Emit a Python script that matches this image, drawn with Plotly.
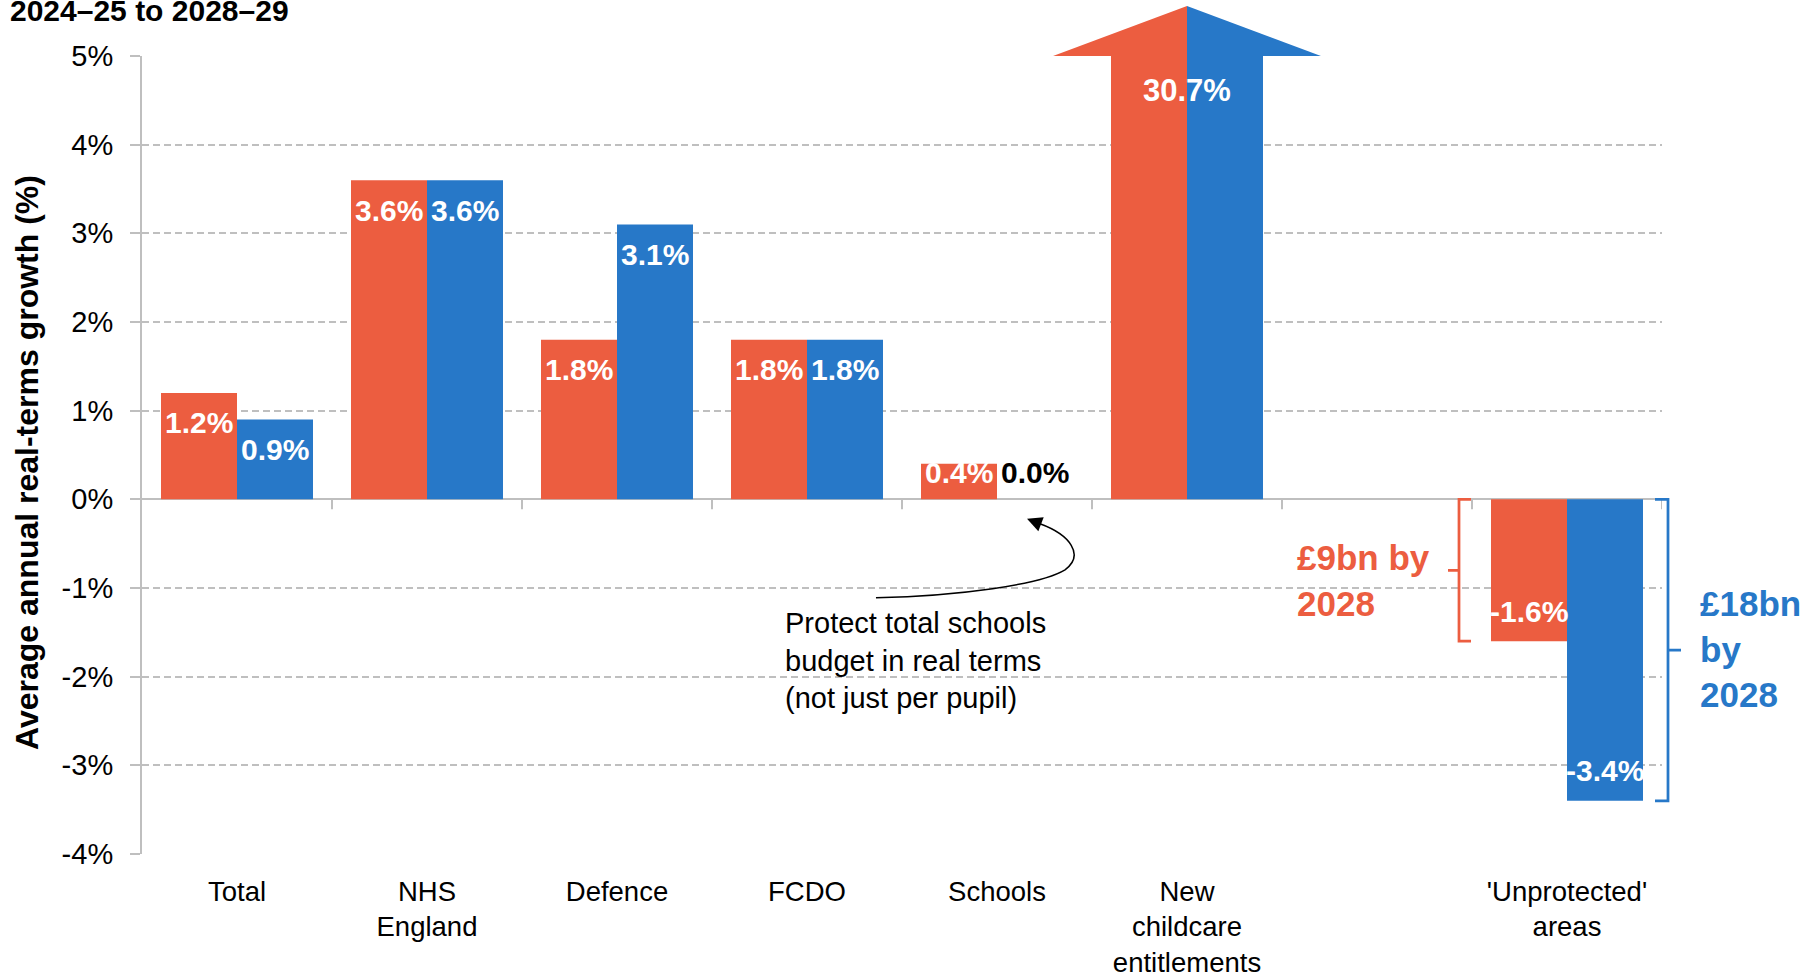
import plotly.graph_objects as go

# ---- data -------------------------------------------------------------
categories = [
    "Total",
    "NHS<br>England",
    "Defence",
    "FCDO",
    "Schools",
    "New<br>childcare<br>entitlements",
    " ",
    "'Unprotected'<br>areas",
]
series_a = [1.2, 3.6, 1.8, 1.8, 0.4, 30.7, None, -1.6]
series_b = [0.9, 3.6, 3.1, 1.8, 0.0, 30.7, None, -3.4]
y_ticks = [-4, -3, -2, -1, 0, 1, 2, 3, 4, 5]

RED = "#EC5D40"
BLUE = "#2778C8"
GRID = "#BFBFBF"
FONT = "Liberation Sans, Arial, sans-serif"

# ---- page geometry ----------------------------------------------------
W, H = 1808, 980
ML, MR, MT, MB = 142, 146, 56, 126
PW, PH = W - ML - MR, H - MT - MB
Y_MIN, Y_MAX = y_ticks[0], y_ticks[-1]
PX_PER_UNIT = PH / (Y_MAX - Y_MIN)


def px(x):
    """page x (pixels from left) -> paper fraction"""
    return (x - ML) / PW


def py(y):
    """page y (pixels from top) -> paper fraction"""
    return (H - MB - y) / PH


fig = go.Figure()
fig.add_trace(go.Bar(x=categories, y=series_a, name="Scenario 1",
                     marker=dict(color=RED, line=dict(width=0))))
fig.add_trace(go.Bar(x=categories, y=series_b, name="Scenario 2",
                     marker=dict(color=BLUE, line=dict(width=0))))

annotations = []
shapes = []

# ---- value labels (inside the bar end, kept clear of the baseline) ------
LABEL_IN = 30    # px from the bar end to the label centre
LABEL_MIN = 27   # px from the zero line to the label centre
for i, cat in enumerate(categories):
    a, b = series_a[i], series_b[i]
    if a is None:
        continue
    if a > Y_MAX and b > Y_MAX and a == b:
        # off-scale bars share one label below the arrow
        annotations.append(dict(x=i, y=Y_MAX, xref="x", yref="y", yshift=-34,
                                text=f"<b>{a:.1f}%</b>", showarrow=False,
                                font=dict(size=31, color="white", family=FONT)))
        continue
    for v, dx in ((a, -0.2), (b, 0.2)):
        length = abs(v) * PX_PER_UNIT
        offset = max(length - LABEL_IN, LABEL_MIN)
        col = "black" if v == 0 else "white"
        shift = -offset if v < 0 else offset
        annotations.append(dict(x=i + dx, y=0, xref="x", yref="y", yshift=shift,
                                text=f"<b>{v:.1f}%</b>", showarrow=False,
                                font=dict(size=30, color=col, family=FONT)))

# ---- arrow head on the off-scale childcare bars ------------------------
ci = 5
tip = py(6)
shapes.append(dict(type="path", xref="x", yref="paper", layer="above",
                   path=f"M {ci - 0.705},1 L {ci},{tip} L {ci},1 Z",
                   fillcolor=RED, line=dict(width=0)))
shapes.append(dict(type="path", xref="x", yref="paper", layer="above",
                   path=f"M {ci},1 L {ci},{tip} L {ci + 0.705},1 Z",
                   fillcolor=BLUE, line=dict(width=0)))

# ---- category tick marks on the zero line ------------------------------
for k in range(len(categories)):
    shapes.append(dict(type="line", xref="x", yref="y", x0=k + 0.5, x1=k + 0.5,
                       ysizemode="pixel", yanchor=0, y0=0, y1=-10,
                       line=dict(color=GRID, width=2)))

# ---- brackets around the unprotected cuts ------------------------------
ua, ub = series_a[-1], series_b[-1]
xa, xa_s, xa_n = px(1459), px(1471), px(1448)
shapes.append(dict(type="path", xref="paper", yref="y",
                   path=f"M {xa_s},0 L {xa},0 L {xa},{ua} L {xa_s},{ua} "
                        f"M {xa},{ua / 2} L {xa_n},{ua / 2}",
                   line=dict(color=RED, width=2.75)))
xb, xb_s, xb_n = px(1668), px(1655), px(1681)
shapes.append(dict(type="path", xref="paper", yref="y",
                   path=f"M {xb_s},0 L {xb},0 L {xb},{ub} L {xb_s},{ub} "
                        f"M {xb},{ub / 2} L {xb_n},{ub / 2}",
                   line=dict(color=BLUE, width=2.75)))

annotations.append(dict(x=px(1295), y=py(580), xref="paper", yref="paper",
                        xanchor="left", yanchor="middle", align="left",
                        text="<b>£9bn by<br>2028</b>", showarrow=False,
                        font=dict(size=35, color=RED, family=FONT)))
annotations.append(dict(x=px(1698), y=py(649), xref="paper", yref="paper",
                        xanchor="left", yanchor="middle", align="left",
                        text="<b>£18bn<br>by<br>2028</b>", showarrow=False,
                        font=dict(size=35, color=BLUE, family=FONT)))

# ---- schools call-out with curved arrow --------------------------------
shapes.append(dict(type="path", xref="x", yref="y",
                   path="M 3.363,-1.110 C 3.805,-1.088 4.226,-0.964 4.358,-0.795 "
                        "C 4.463,-0.626 4.384,-0.400 4.226,-0.276",
                   line=dict(color="black", width=1.5)))
annotations.append(dict(x=4.158, y=-0.22, xref="x", yref="y", text="",
                        showarrow=True, ax=13, ay=5, axref="pixel", ayref="pixel",
                        arrowhead=2, arrowsize=2, arrowwidth=1.5,
                        arrowcolor="black", standoff=0))
annotations.append(dict(x=px(783), y=py(660), xref="paper", yref="paper",
                        xanchor="left", yanchor="middle", align="left",
                        text="Protect total schools<br>budget in real terms<br>(not just per pupil)",
                        showarrow=False, font=dict(size=29, color="black", family=FONT)))

# ---- titles ------------------------------------------------------------
annotations.append(dict(x=px(8), y=py(10.6), xref="paper", yref="paper",
                        xanchor="left", yanchor="middle",
                        text="<b>2024–25 to 2028–29</b>", showarrow=False,
                        font=dict(size=30, color="black", family=FONT)))
annotations.append(dict(x=px(27), y=py(463), xref="paper", yref="paper",
                        xanchor="center", yanchor="middle", textangle=-90,
                        text="<b>Average annual real-terms growth (%)</b>",
                        showarrow=False, font=dict(size=32, color="black", family=FONT)))

fig.update_layout(
    width=W, height=H,
    margin=dict(l=ML, r=MR, t=MT, b=MB, autoexpand=False),
    paper_bgcolor="white", plot_bgcolor="white",
    barmode="group", bargap=0.2, bargroupgap=0,
    showlegend=False,
    font=dict(family=FONT, color="black"),
    annotations=annotations, shapes=shapes,
)
fig.update_xaxes(
    type="category", categoryorder="array", categoryarray=categories,
    range=[-0.5, len(categories) - 0.5],
    showgrid=False, showline=False, zeroline=False, ticks="",
    tickfont=dict(size=27.5, color="black", family=FONT),
    ticklabelstandoff=18,
)
fig.update_yaxes(
    range=[Y_MIN, Y_MAX], tickvals=y_ticks,
    ticktext=[f"{t}%" for t in y_ticks],
    showgrid=True, gridcolor=GRID, gridwidth=2, griddash="7px,4px",
    zeroline=True, zerolinecolor=GRID, zerolinewidth=2,
    showline=True, linecolor=GRID, linewidth=2,
    ticks="outside", ticklen=10, tickcolor=GRID, tickwidth=2,
    tickfont=dict(size=29, color="black", family=FONT),
    ticklabelstandoff=11,
)

fig.write_html("out.html", config={"displayModeBar": False})
